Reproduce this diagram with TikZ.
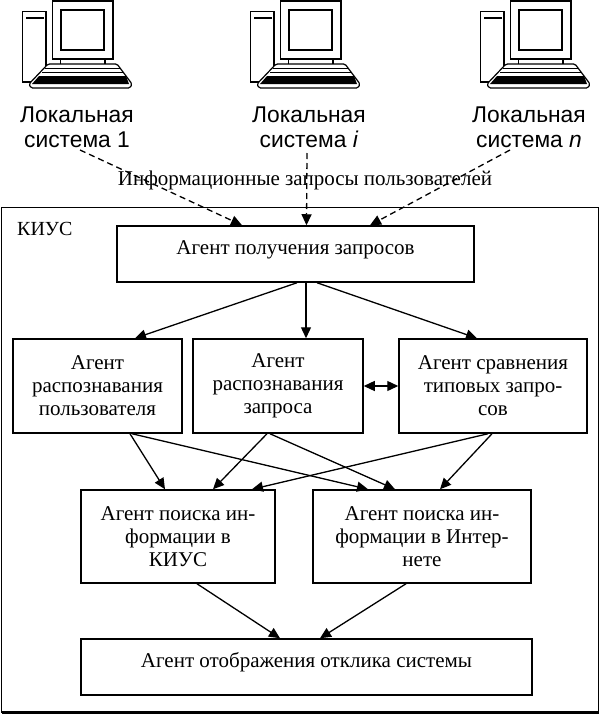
\documentclass[tikz,border=0pt]{standalone}
\usepackage{fontspec}
\setmainfont{Liberation Serif}
\newfontfamily\lsans{Liberation Sans}
\usetikzlibrary{arrows.meta,calc}
\tikzset{
  computer/.pic={
    \draw[line width=1.2pt,fill=white] (22.7,11.7) rectangle (46,82);
    \draw[line width=2.5pt] (26,18) -- (44,18);
    \draw[line width=1.5pt,fill=white] (52.7,1) rectangle (113,59);
    \draw[line width=1.8pt] (60.7,10) rectangle (104,50);
    \draw[line width=1.2pt] (60.7,59) -- (60.7,65) (105,59) -- (105,65);
    \draw[line width=1.2pt,fill=white,rounded corners=1.5pt] (48,64) -- (117,64) -- (132,84) -- (130,88) -- (31,88) -- (29,84) -- cycle;
    \draw[line width=1pt] (45,68) -- (120,68) (42,72) -- (123,72);
    \fill (39,76) -- (126,76) -- (129,84) -- (32,84) -- cycle;
  }
}
\begin{document}
\begin{tikzpicture}[x=1pt,y=-1pt,
  box/.style={draw,line width=1.5pt,inner sep=0pt,align=center,fill=white,
    font=\fontsize{21}{23}\selectfont},
  onebox/.style={box,text height=13.5pt,text depth=13.5pt},
  conn/.style={line width=1.3pt,-{Triangle[length=11pt,width=10pt]}},
  dconn/.style={conn,dash pattern=on 6pt off 4pt},
  lbl/.style={font=\lsans\fontsize{22.8}{25}\selectfont,align=center,inner sep=0pt},
]
\useasboundingbox (0,0) rectangle (602,715);
% frame
\draw[line width=1pt] (1.5,207) rectangle (598.5,712.5);
\draw[line width=2.5pt] (1.5,712.5) -- (598.5,712.5);
\node[font=\fontsize{20}{23}\selectfont,inner sep=0pt,anchor=base west] (kius) at (17,235) {КИУС};
% computers
\pic at (0,0) {computer};
\pic at (228,0) {computer};
\pic at (458,0) {computer};
\node[lbl] (l1) at (77,127) {Локальная\\система 1};
\node[lbl] (l2) at (309,127) {Локальная\\система \textit{i}};
\node[lbl] (l3) at (529,127) {Локальная\\система \textit{n}};
% boxes
\node[onebox,minimum width=357pt,minimum height=56pt] (box1) at (295.5,254) {Агент получения запросов};
\node[box,minimum width=169pt,minimum height=94pt] (A) at (97.5,386) {Агент\\распознавания\\пользователя};
\node[box,minimum width=170pt,minimum height=94pt] (B) at (278,386) {Агент\\распознавания\\запроса};
\node[box,minimum width=188pt,minimum height=94pt] (C) at (493,386) {Агент сравнения\\типовых запро-\\сов};
\node[box,minimum width=194pt,minimum height=93pt] (D) at (178,536.5) {Агент поиска ин-\\формации в\\КИУС};
\node[box,minimum width=218pt,minimum height=93pt] (E) at (422,536.5) {Агент поиска ин-\\формации в Интер-\\нете};
\node[onebox,minimum width=451pt,minimum height=56pt] (F) at (306.5,667) {Агент отображения отклика системы};
% dashed requests
\coordinate (s1) at (80,150);
\coordinate (s2) at (307,153);
\coordinate (s3) at (510,150);
\draw[dconn] (s1) -- ([xshift=-53.5pt]box1.north);
\draw[dconn] (s2) -- ([xshift=11pt]box1.north);
\draw[dconn] (s3) -- ([xshift=74.5pt]box1.north);
\node[font=\fontsize{21}{24}\selectfont,inner sep=0pt] (q) at (305,180) {Информационные запросы пользователей};
% connectors
\draw[conn] ([xshift=1.5pt]box1.south) -- ([xshift=37.5pt]A.north);
\draw[conn] ([xshift=10.5pt]box1.south) -- ([xshift=28pt]B.north);
\draw[conn] ([xshift=21.5pt]box1.south) -- ([xshift=-16pt]C.north);
\draw[line width=1.3pt,{Triangle[length=11pt,width=10pt]}-{Triangle[length=11pt,width=10pt]}] (B.east) -- (C.west);
\draw[conn] ([xshift=32.5pt]A.south) -- ([xshift=-13pt]D.north);
\draw[conn] ([xshift=34.5pt]A.south) -- ([xshift=-54pt]E.north);
\draw[conn] ([xshift=-11pt]B.south) -- ([xshift=35pt]D.north);
\draw[conn] ([xshift=-8pt]B.south) -- ([xshift=-27pt]E.north);
\draw[conn] ([xshift=-5pt]C.south) -- ([xshift=74pt]D.north);
\draw[conn] ([xshift=-1pt]C.south) -- ([xshift=18pt]E.north);
\draw[conn] ([xshift=19pt]D.south) -- ([xshift=-26.5pt]F.north);
\draw[conn] ([xshift=-16pt]E.south) -- ([xshift=13.5pt]F.north);
\end{tikzpicture}
\end{document}
